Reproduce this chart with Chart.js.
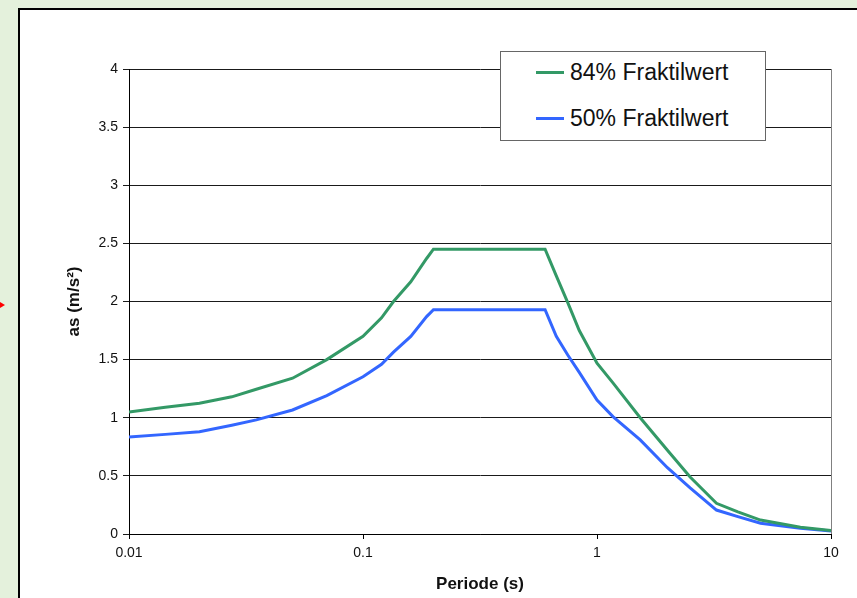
<!DOCTYPE html>
<html>
<head>
<meta charset="utf-8">
<script src="https://cdn.jsdelivr.net/npm/chart.js@4/dist/chart.umd.min.js"></script>
<style>
    html, body { margin: 0; padding: 0; }
    body {
        width: 857px; height: 598px; overflow: hidden; position: relative;
        background: #e4f1dc; font-family: "Liberation Sans", Arial, sans-serif;
    }
    #panel {
        position: absolute; left: 18px; top: 8px; width: 900px; height: 700px;
        background: #fff; border: 2px solid #000; box-sizing: border-box;
    }
    #arrow {
        position: absolute; left: 0; top: 302px; width: 0; height: 0;
        border-top: 3px solid transparent; border-bottom: 3px solid transparent;
        border-left: 5px solid #ff0000;
    }
    #chart-wrap { position: absolute; left: 0; top: 0; width: 857px; height: 598px; }
    #legend {
        position: absolute; left: 500px; top: 51px; width: 266px; height: 90px;
        box-sizing: border-box; border: 1.5px solid #666; background: #fff;
    }
    .legend-item { position: absolute; left: 0; height: 30px; display: flex; align-items: center; }
    .legend-line { width: 28px; height: 3px; margin-left: 35px; margin-right: 6px; }
    .legend-text { font-size: 23px; color: #111; white-space: nowrap; }
</style>
</head>
<body>
<div id="panel"></div>
<div id="arrow"></div>
<div id="chart-wrap"><canvas id="spectrum-chart" width="857" height="598"></canvas></div>
<div id="legend"></div>

<script>
// Periods (s) shared by both curves
const periods = [0.01, 0.0143, 0.02, 0.0275, 0.035, 0.05, 0.07, 0.1, 0.12, 0.135, 0.16, 0.187, 0.2,
    0.6, 0.67, 0.75, 0.84, 1.0, 1.17, 1.53, 2.0, 2.5, 3.24, 4.0, 5.0, 7.4, 10];

// 84% fractile
const fractile84 = [1.05, 1.09, 1.125, 1.18, 1.245, 1.34, 1.50, 1.70, 1.86, 2.0, 2.17, 2.37, 2.45,
    2.45, 2.22, 1.99, 1.75, 1.47, 1.30, 1.0, 0.72, 0.49, 0.264, 0.19, 0.12, 0.058, 0.03];

// 50% fractile
const fractile50 = [0.834, 0.857, 0.88, 0.936, 0.982, 1.067, 1.19, 1.353, 1.46, 1.564, 1.70, 1.87, 1.93,
    1.93, 1.70, 1.54, 1.39, 1.153, 1.01, 0.81, 0.57, 0.397, 0.206, 0.15, 0.092, 0.049, 0.026];

const seriesLabels = ['84% Fraktilwert', '50% Fraktilwert'];
const seriesColors = ['#339966', '#3366ff'];

const xTicks = [0.01, 0.1, 1, 10];

function toPoints(values) {
    return periods.map((p, i) => ({ x: p, y: values[i] }));
}

// Right border of the plot area
const plotBorder = {
    id: 'plotBorder',
    afterDraw(chart) {
        const { ctx, chartArea } = chart;
        ctx.save();
        ctx.strokeStyle = '#808080';
        ctx.lineWidth = 1;
        ctx.beginPath();
        ctx.moveTo(Math.round(chartArea.right) + 0.5, chartArea.top);
        ctx.lineTo(Math.round(chartArea.right) + 0.5, chartArea.bottom);
        ctx.stroke();
        ctx.restore();
    }
};

function initChart() {
    const ctx = document.getElementById('spectrum-chart').getContext('2d');

    const chart = new Chart(ctx, {
        type: 'line',
        data: {
            datasets: [
                { label: seriesLabels[0], data: toPoints(fractile84), borderColor: seriesColors[0] },
                { label: seriesLabels[1], data: toPoints(fractile50), borderColor: seriesColors[1] }
            ].map(d => Object.assign(d, { borderWidth: 3, pointRadius: 0, tension: 0, fill: false }))
        },
        options: {
            responsive: false,
            animation: false,
            layout: { padding: { left: 58, top: 69, right: 26, bottom: 0 } },
            plugins: { legend: { display: false }, tooltip: { enabled: false } },
            scales: {
                x: {
                    type: 'logarithmic',
                    min: 0.01,
                    max: 10,
                    afterBuildTicks: scale => { scale.ticks = xTicks.map(v => ({ value: v })); },
                    afterFit: scale => { scale.height = 64; },
                    ticks: {
                        color: '#111',
                        font: { family: 'Liberation Sans', size: 14 },
                        padding: 6,
                        maxRotation: 0,
                        autoSkip: false,
                        callback: v => String(v)
                    },
                    grid: { drawOnChartArea: false, color: '#000', tickLength: 5 },
                    border: { color: '#000', width: 1 },
                    title: {
                        display: true,
                        text: 'Periode (s)',
                        color: '#111',
                        font: { family: 'Liberation Sans', size: 17, weight: 'bold' },
                        padding: { top: 0, bottom: 3 }
                    }
                },
                y: {
                    min: 0,
                    max: 4,
                    afterFit: scale => { scale.width = 71; },
                    ticks: {
                        stepSize: 0.5,
                        color: '#111',
                        font: { family: 'Liberation Sans', size: 14 },
                        padding: 5,
                        callback: v => String(v)
                    },
                    grid: { color: '#1a1a1a', tickLength: 6 },
                    border: { color: '#000', width: 1 },
                    title: {
                        display: true,
                        text: 'as (m/s²)',
                        color: '#111',
                        font: { family: 'Liberation Sans', size: 17, weight: 'bold' },
                        padding: { top: 6, bottom: 0 }
                    }
                }
            }
        },
        plugins: [plotBorder]
    });

    // HTML legend built from the datasets
    const legend = document.getElementById('legend');
    chart.data.datasets.forEach((ds, i) => {
        const item = document.createElement('div');
        item.className = 'legend-item';
        item.style.top = (5 + i * 46) + 'px';
        item.innerHTML = `
            <div class="legend-line" style="background:${ds.borderColor}"></div>
            <div class="legend-text">${ds.label}</div>
        `;
        legend.appendChild(item);
    });
}

initChart();
</script>
</body>
</html>
